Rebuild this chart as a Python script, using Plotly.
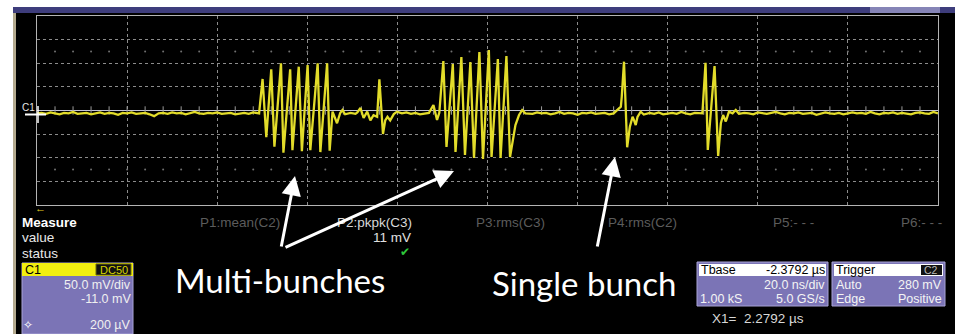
import plotly.graph_objects as go
import numpy as np

W, H = 955, 334

# ---- channel C1 record: time (ns) and amplitude (mV) ----
t_ns = (
    [0, 1, 2, 3, 4, 5, 6, 7, 8, 9, 10, 11, 12, 13, 14, 15, 16, 17, 18, 19, 20, 21, 22, 23, 24,
     25, 26, 27, 28, 29, 30, 31, 32, 33, 34, 35, 36, 37, 38, 39, 40, 41, 42, 43, 44, 45, 46, 47, 48]
    + [49.3, 50.07, 50.9, 52.0, 52.7, 54.16, 54.7, 56.2, 56.7, 58.1, 58.8, 60.07, 60.67, 62.3, 62.9,
       64.4, 64.96, 65.6, 66.6, 67.3, 67.8, 68.4, 69.6, 70.7, 71.1, 71.8, 72.5, 73.3, 74.0, 74.7,
       75.5, 76.0, 76.8, 77.3, 77.8, 78.4, 79.2, 79.9]
    + [81, 82, 83, 84, 85, 86, 87]
    + [88.0, 88.8, 89.3, 90.2, 90.9, 92.3, 92.9, 94.2, 95.0, 96.2, 97.0, 98.2, 99.0, 100.3, 100.9,
       102.3, 102.9, 104.2, 105.0, 106.2, 107.0, 107.7, 108.4]
    + [109, 110, 111, 112, 113, 114, 115, 116, 117, 118, 119, 120, 121, 122, 123, 124, 125, 126,
       127, 128]
    + [129.6, 129.8, 130.3, 130.7, 131.0, 131.6, 132.2, 132.5, 132.9, 133.3, 134.0, 134.7]
    + [135.5, 136, 137, 138, 139, 140, 141, 142, 143, 144, 145, 146, 147]
    + [147.7, 148.4, 148.9, 150.4, 151.2, 151.8, 152.3, 152.9, 153.6, 154.4, 155.1, 155.8]
    + [157, 158, 159, 160, 161, 162, 163, 164, 165, 166, 167, 168, 169, 170, 171, 172, 173, 174,
       175, 176, 177, 178, 179, 180, 181, 182, 183, 184, 185, 186, 187, 188, 189, 190, 191, 192,
       193, 194, 195, 196, 197, 198, 199, 200]
)
v_mV = (
    [-6, -5, -7, -4, -6, -8, -5, -6, -3, -7, -6, -5, -8, -6, -4, -7, -5, -6, -9, -5, -6, -4, -7, -6,
     -5, -8, -12, -6, -5, -7, -4, -6, -5, -8, -6, -3, -6, -7, -5, -6, -4, -7, -6, -5, -8, -6, -5,
     -7, -4]
    + [-6, 66.7, -56.7, 87.2, -76.6, 99.9, -89.3, 87.2, -84, 92.7, -86, 96.3, -84, 99.9, -88,
       99.9, -85, -2.5, -27, -5.3, 1, -8, -5, -7, -4, 5.3, -15.9, -2.5, -21, -9.9,
       -13.4, 66, -49.7, -21, -13.4, -21, -7.6, -2.5]
    + [-6, -4, -7, -5, -8, -6, -5]
    + [11.6, -20, -5, 104.7, -77.2, 98.4, -87.8, 113.2, -94.2, 102.6, -100.5, 123.8, -102.6, 128,
       -98.4, 109, -100.5, 115.3, -98.4, -30.7, -9.5, 1, -6]
    + [-6, -7, -4, -6, -5, -8, -6, -3, -7, -5, -6, -9, -5, -6, -4, -7, -6, -5, -8, -6]
    + [8, 29, 103.3, 8, -77.9, -34.3, -13.4, -19.7, -30.7, -13.4, -2.5, -8.5]
    + [-6, -5, -7, -4, -8, -6, -5, -7, -3, -6, -8, -5, -6]
    + [-5.9, 101, -83.6, 94.2, -96.3, -27, -9.5, -23.3, -2.5, -6, 1, -7]
    + [-5, -6, -8, -4, -6, -7, -5, -3, -6, -8, -5, -6, -4, -7, -6, -5, -9, -6, -4, -6, -7, -5,
       -8, -6, -4, -6, -5, -7, -3, -6, -8, -5, -6, -4, -7, -5, -6, -8, -5, -4, -6, -7, -3, -6]
)

# ---- scope read-outs ----
meas_labels = ["P1:mean(C2)", "P2:pkpk(C3)", "P3:rms(C3)", "P4:rms(C2)", "P5:- - -", "P6:- - -"]
meas_x = [240, 374, 510, 642, 793, 921]
c1_scale = "50.0 mV/div"
c1_offset = "-11.0 mV"
c1_step = "200 µV"
tbase = ["Tbase", "-2.3792 µs", "20.0 ns/div", "1.00 kS", "5.0 GS/s"]
trigger = ["Trigger", "C2", "Auto", "280 mV", "Edge", "Positive"]
cursor = "X1=  2.2792 µs"

FONT = "Liberation Sans, Arial, sans-serif"
BIG = "Lato, Open Sans, sans-serif"
UI = 13.5   # read-out text
BOX = 12.5  # text inside the channel / timebase / trigger boxes


def px(x):
    return x / W


def py(y):
    return 1 - y / H


fig = go.Figure()

# minor dot rows and centre-line ticks of the graticule
dots_t = np.arange(4, 200, 4)
fig.add_trace(go.Scatter(x=np.concatenate([dots_t, dots_t]),
                         y=np.concatenate([np.full(dots_t.size, 125), np.full(dots_t.size, -125)]),
                         mode="markers", marker=dict(size=2, color="#707070"),
                         hoverinfo="skip", showlegend=False))
fig.add_trace(go.Scatter(x=dots_t, y=np.zeros(dots_t.size), mode="markers",
                         marker=dict(symbol="line-ns", size=6, line=dict(width=1, color="#9a9a9a")),
                         hoverinfo="skip", showlegend=False))

fig.add_trace(go.Scatter(x=t_ns, y=v_mV, mode="lines",
                         line=dict(color="#e2dc2a", width=2.3),
                         hoverinfo="skip", showlegend=False))

shapes = []
# screen background and frame
shapes.append(dict(type="rect", xref="paper", yref="paper", x0=px(13), x1=px(W), y0=0, y1=py(7),
                   fillcolor="black", line=dict(width=0), layer="below"))
shapes.append(dict(type="rect", xref="paper", yref="paper", x0=px(13), x1=px(16), y0=0, y1=py(7),
                   fillcolor="#b3a98e", line=dict(width=0), layer="below"))
shapes.append(dict(type="rect", xref="paper", yref="paper", x0=px(13), x1=px(W), y0=py(13), y1=py(7),
                   fillcolor="#3e3d7c", line=dict(width=0), layer="below"))
shapes.append(dict(type="rect", xref="paper", yref="paper", x0=px(870), x1=px(940), y0=py(13), y1=py(7),
                   fillcolor="#8584b6", line=dict(width=0), layer="below"))
# C1 marker cross
shapes.append(dict(type="line", xref="paper", yref="paper", x0=px(25), x1=px(46), y0=py(114.5), y1=py(114.5),
                   line=dict(color="white", width=2)))
shapes.append(dict(type="line", xref="paper", yref="paper", x0=px(38), x1=px(38), y0=py(106), y1=py(123),
                   line=dict(color="white", width=1.5)))

# C1 channel box
shapes.append(dict(type="rect", xref="paper", yref="paper", x0=px(22), x1=px(133), y0=0, y1=py(263),
                   fillcolor="#7b74b6", line=dict(color="#a9a3d6", width=1)))
shapes.append(dict(type="rect", xref="paper", yref="paper", x0=px(22), x1=px(133), y0=py(276), y1=py(263),
                   fillcolor="#f2ee10", line=dict(width=0)))
shapes.append(dict(type="rect", xref="paper", yref="paper", x0=px(96), x1=px(131), y0=py(275), y1=py(264),
                   fillcolor="#111111", line=dict(color="#6a6a10", width=1)))
# Tbase and Trigger boxes
for x0, x1 in [(697, 828), (832, 945)]:
    shapes.append(dict(type="rect", xref="paper", yref="paper", x0=px(x0), x1=px(x1), y0=py(306), y1=py(262),
                       fillcolor="#7b74b6", line=dict(color="#a9a3d6", width=1)))
    shapes.append(dict(type="rect", xref="paper", yref="paper", x0=px(x0 + 2), x1=px(x1 - 2), y0=py(276), y1=py(264),
                       fillcolor="white", line=dict(width=0)))
shapes.append(dict(type="rect", xref="paper", yref="paper", x0=px(921), x1=px(942), y0=py(275), y1=py(265),
                   fillcolor="#111111", line=dict(width=0)))

annotations = []


def txt(x, y, s, size=UI, color="white", anchor="left", font=FONT, bold=False):
    if bold:
        s = "<b>" + s + "</b>"
    annotations.append(dict(x=px(x), y=py(y), xref="paper", yref="paper", text=s, showarrow=False,
                            xanchor=anchor, yanchor="middle", borderpad=0,
                            font=dict(family=font, size=size, color=color)))


txt(21, 107, "C1", 10, "#e8e8e8")
txt(34, 208, "←", 11, "#e8d020")
txt(21, 222, "Measure", UI, "white", bold=True)
txt(21, 238, "value", UI, "#e8e8e8")
txt(21, 253, "status", UI, "#e8e8e8")
for lab, xm in zip(meas_labels, meas_x):
    col = "#d8d8d8" if lab.startswith("P2") else "#5c5c5c"
    txt(xm, 222, lab, UI, col, anchor="center")
txt(412, 238, "11 mV", UI, "#e0e0e0", anchor="right")
txt(405, 252, "✔", 12, "#2ec83a", anchor="center")

txt(24, 270, "C1", BOX, "black")
txt(129, 270, "DC50", 11, "#d8d400", anchor="right")
txt(132, 285, c1_scale, BOX, "#f0f0f0", anchor="right")
txt(132, 299, c1_offset, BOX, "#f0f0f0", anchor="right")
txt(28, 325, "✧", 12, "white", anchor="center")
txt(132, 325, c1_step, BOX, "#f0f0f0", anchor="right")

txt(700, 270, tbase[0], BOX, "black")
txt(826, 270, tbase[1], BOX, "black", anchor="right")
txt(826, 285, tbase[2], BOX, "#f4f4f4", anchor="right")
txt(699, 299, tbase[3], BOX, "#f4f4f4")
txt(826, 299, tbase[4], BOX, "#f4f4f4", anchor="right")
txt(835, 270, trigger[0], BOX, "black")
txt(931, 270, trigger[1], 10.5, "#bbbbbb", anchor="center")
txt(835, 285, trigger[2], BOX, "#f4f4f4")
txt(943, 285, trigger[3], BOX, "#f4f4f4", anchor="right")
txt(835, 299, trigger[4], BOX, "#f4f4f4")
txt(943, 299, trigger[5], BOX, "#f4f4f4", anchor="right")
txt(711, 318, cursor, UI, "#d8d8d8")

txt(280, 280, "Multi-bunches", 33, "white", anchor="center", font=BIG)
txt(584, 283, "Single bunch", 33, "white", anchor="center", font=BIG)


def arrow(hx, hy, tx, ty):
    annotations.append(dict(x=px(hx), y=py(hy), xref="paper", yref="paper", text="",
                            showarrow=True, ax=tx - hx, ay=ty - hy, axref="pixel", ayref="pixel",
                            arrowhead=2, arrowsize=1.3, arrowwidth=3, arrowcolor="white",
                            standoff=0, startstandoff=0))


arrow(295, 176, 281, 248)
arrow(454, 171, 284, 248)
arrow(615, 157, 597, 248)

fig.update_layout(
    width=W, height=H, margin=dict(l=0, r=0, t=0, b=0),
    paper_bgcolor="white", plot_bgcolor="black",
    shapes=shapes, annotations=annotations, showlegend=False,
    xaxis=dict(domain=[px(37), px(938)], range=[0, 200], dtick=20, tick0=0,
               showgrid=True, gridcolor="#8c8c8c", griddash="dot", gridwidth=1,
               zeroline=False, showticklabels=False, ticks="",
               showline=True, linecolor="#b4b4b4", linewidth=1, mirror=True),
    yaxis=dict(domain=[py(205), py(16)], range=[-200, 200], dtick=50, tick0=0,
               showgrid=True, gridcolor="#8c8c8c", griddash="dot", gridwidth=1,
               zeroline=True, zerolinecolor="#c4c4d4", zerolinewidth=1,
               showticklabels=False, ticks="",
               showline=True, linecolor="#b4b4b4", linewidth=1, mirror=True),
)

fig.write_html("out.html")
